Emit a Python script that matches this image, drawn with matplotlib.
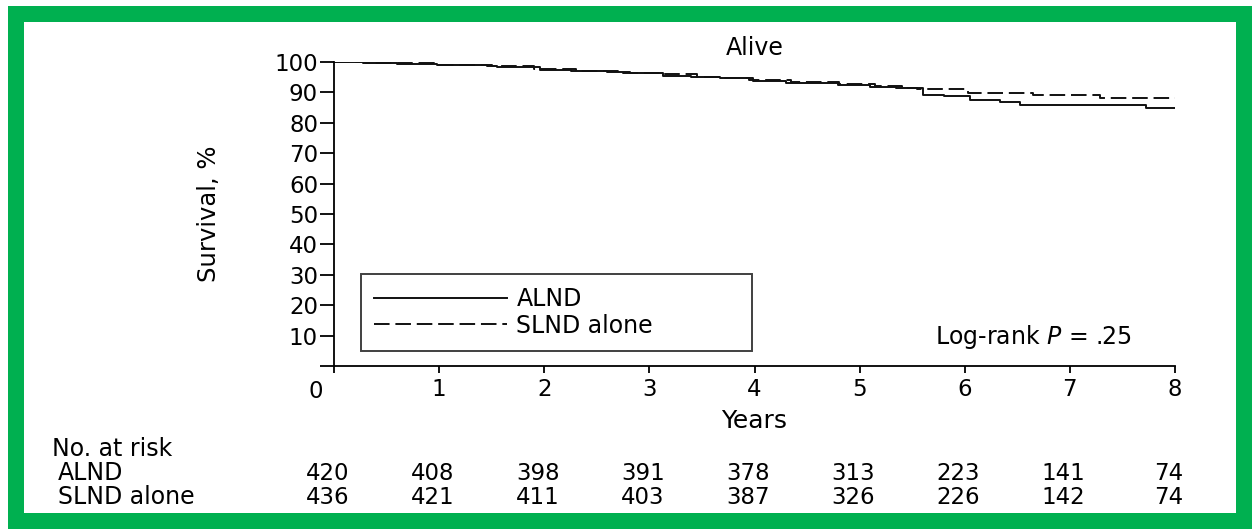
import numpy as np
import matplotlib
matplotlib.use("Agg")
import matplotlib.pyplot as plt
from matplotlib.patches import Rectangle
from matplotlib.transforms import blended_transform_factory

plt.rcParams['font.family'] = ['DejaVu Sans']
plt.rcParams['mathtext.fontset'] = 'custom'
plt.rcParams['mathtext.it'] = 'DejaVu Sans:italic'
plt.rcParams['mathtext.rm'] = 'DejaVu Sans'

# Kaplan-Meier steps (years, survival %)
alnd_t = [0, 0.28, 0.6, 0.98, 1.46, 1.55, 1.96, 2.25, 2.6, 2.82, 3.13, 3.4, 3.67,
          3.99, 4.3, 4.79, 5.1, 5.35, 5.6, 5.8, 6.05, 6.34, 6.53, 7.72, 8.0]
alnd_s = [100, 99.6, 99.4, 99.0, 98.7, 98.4, 97.5, 97.0, 96.8, 96.4, 95.5, 95.1, 94.7,
          93.6, 93.1, 92.4, 91.9, 91.3, 89.3, 88.8, 87.6, 86.7, 85.9, 84.9, 84.9]

slnd_t = [0, 0.3, 0.95, 1.5, 1.9, 2.3, 2.75, 3.1, 3.45, 3.7, 3.95, 4.35, 4.8,
          5.15, 5.4, 5.55, 6.03, 6.65, 7.29, 8.0]
slnd_s = [100, 99.7, 99.1, 98.6, 97.7, 97.1, 96.5, 95.9, 95.2, 94.8, 94.0, 93.3, 92.6,
          92.1, 91.6, 91.1, 89.9, 89.1, 88.0, 88.0]

years = [0, 1, 2, 3, 4, 5, 6, 7, 8]
risk_alnd = [420, 408, 398, 391, 378, 313, 223, 141, 74]
risk_slnd = [436, 421, 411, 403, 387, 326, 226, 142, 74]
y_ticks = [0, 10, 20, 30, 40, 50, 60, 70, 80, 90, 100]

W, H = 1252, 529
fig = plt.figure(figsize=(W / 100, H / 100), dpi=100)
fig.patch.set_facecolor('white')

# green frame round the picture
green = '#00b050'
for (x0, y0, w, h) in [(8, 6, W - 8, 16), (8, 6, 16, H - 6),
                       (W - 16, 6, 16, H - 6), (8, H - 16, W - 8, 16)]:
    fig.patches.append(Rectangle((x0 / W, 1 - (y0 + h) / H), w / W, h / H,
                                 transform=fig.transFigure, facecolor=green,
                                 edgecolor='none', zorder=0))

ax = fig.add_axes([334 / W, 1 - 366 / H, (1175 - 334) / W, (366 - 62) / H])
ax.set_facecolor('none')

ax.step(alnd_t, alnd_s, where='post', color='#111111', lw=1.4, label='ALND')
ax.step(slnd_t, slnd_s, where='post', color='#111111', lw=1.4,
        linestyle=(0, (8, 3)), label='SLND alone')

ax.set_xlim(0, 8)
ax.set_ylim(0, 100)
ax.set_xticks(years)
ax.set_xticklabels([''] + [str(y) for y in years[1:]])
ax.set_yticks(y_ticks)
ax.set_yticklabels([''] + [str(v) for v in y_ticks[1:]])
ax.tick_params(axis='y', length=10, width=1.3, pad=1.5, labelsize=16.5)
ax.tick_params(axis='x', length=5, width=1.3, pad=4, labelsize=16.5)
for s in ['top', 'right']:
    ax.spines[s].set_visible(False)
for s in ['left', 'bottom']:
    ax.spines[s].set_linewidth(1.3)
ax.annotate('0', xy=(0, 0), xytext=(-18, -26), textcoords='offset pixels',
            ha='center', va='center', fontsize=16.5)

ax.set_title('Alive', fontsize=17, pad=5)
ax.set_xlabel('Years', fontsize=18)
ax.xaxis.set_label_coords(0.5, -0.14)
ax.set_ylabel('Survival, %', fontsize=17.5)
ax.yaxis.set_label_coords(-0.134, 0.5)

leg = ax.legend(loc='upper left', bbox_to_anchor=(0.26, 4.6, 3.72, 25.7),
                bbox_transform=ax.transData, mode='expand', borderaxespad=0,
                fontsize=17, handlelength=5.6, handletextpad=0.42,
                borderpad=0.55, labelspacing=0.12, fancybox=False)
leg.get_frame().set_edgecolor('#111111')
leg.get_frame().set_linewidth(1.4)

ax.text(7.59, 9.5, 'Log-rank $P$ = .25', ha='right', va='center', fontsize=17)

# number at risk table
tr = blended_transform_factory(ax.transData, fig.transFigure)
fig.text(52 / W, 1 - 449 / H, 'No. at risk', ha='left', va='center', fontsize=17)
fig.text(58 / W, 1 - 473 / H, 'ALND', ha='left', va='center', fontsize=17)
fig.text(58 / W, 1 - 497 / H, 'SLND alone', ha='left', va='center', fontsize=17)
for t, a, s in zip(years, risk_alnd, risk_slnd):
    ax.text(t - 0.06, 1 - 473 / H, str(a), transform=tr, ha='center', va='center',
            fontsize=16.5, clip_on=False)
    ax.text(t - 0.06, 1 - 497 / H, str(s), transform=tr, ha='center', va='center',
            fontsize=16.5, clip_on=False)

fig.savefig('out.png', dpi=100)
